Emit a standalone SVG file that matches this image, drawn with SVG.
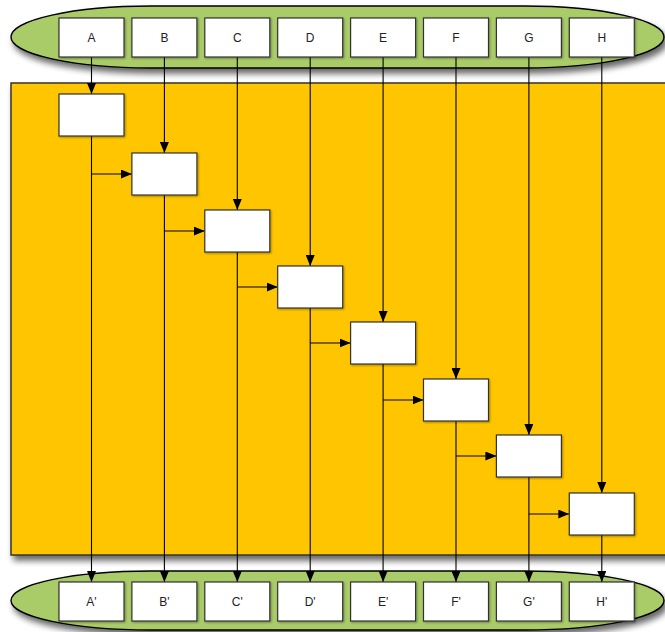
<svg xmlns="http://www.w3.org/2000/svg" width="665" height="632" viewBox="0 0 665 632">
<defs>
<filter id="sh" x="-10%" y="-30%" width="130%" height="180%">
<feGaussianBlur in="SourceAlpha" stdDeviation="3"/>
<feOffset dx="3" dy="5" result="b"/>
<feComponentTransfer><feFuncA type="linear" slope="0.6"/></feComponentTransfer>
<feMerge><feMergeNode/><feMergeNode in="SourceGraphic"/></feMerge>
</filter>
<filter id="bsh" x="-10%" y="-10%" width="130%" height="130%">
<feGaussianBlur in="SourceAlpha" stdDeviation="1"/>
<feOffset dx="1" dy="1"/>
<feComponentTransfer><feFuncA type="linear" slope="0.35"/></feComponentTransfer>
<feMerge><feMergeNode/><feMergeNode in="SourceGraphic"/></feMerge>
</filter>
<marker id="arr" viewBox="0 0 11 9" refX="11" refY="4.5" markerWidth="11" markerHeight="9" markerUnits="userSpaceOnUse" orient="auto">
<path d="M0,0 L11,4.5 L0,9 Z" fill="#000"/>
</marker>
<style>
.pill{fill:#A9CB67;stroke:#000;stroke-width:1.4}
.panel{fill:#FFC600;stroke:#333;stroke-width:1.5}
.box{fill:#fff;stroke:#333;stroke-width:1.2}
.lbl{font-family:"Liberation Sans",Arial,sans-serif;font-size:12px;fill:#222;text-anchor:middle}
.c{fill:none;stroke:#000;stroke-width:1.1;marker-end:url(#arr)}
</style>
</defs>

<g id="panel"><rect class="panel" x="11" y="83" width="680" height="472" filter="url(#sh)"/></g>

<g id="top-band">
<rect class="pill" x="11" y="6" width="653" height="62" rx="140" ry="31" filter="url(#sh)"/>
</g>
<g id="bottom-band">
<rect class="pill" x="11" y="571" width="653" height="59" rx="140" ry="29.5" filter="url(#sh)"/>
</g>

<g id="connectors">
<path class="c" d="M91.5,57 V94"/>
<path class="c" d="M164.4,57 V153"/>
<path class="c" d="M237.3,57 V210"/>
<path class="c" d="M310.2,57 V266"/>
<path class="c" d="M383.1,57 V322"/>
<path class="c" d="M456,57 V379"/>
<path class="c" d="M528.9,57 V435"/>
<path class="c" d="M601.8,57 V493"/>
<path class="c" d="M91.5,136 V582"/>
<path class="c" d="M164.4,195 V582"/>
<path class="c" d="M237.3,252 V582"/>
<path class="c" d="M310.2,308 V582"/>
<path class="c" d="M383.1,364 V582"/>
<path class="c" d="M456,421 V582"/>
<path class="c" d="M528.9,477 V582"/>
<path class="c" d="M601.8,535 V582"/>
<path class="c" d="M91.5,174 H131.9"/>
<path class="c" d="M164.4,231 H204.8"/>
<path class="c" d="M237.3,287 H277.7"/>
<path class="c" d="M310.2,343 H350.6"/>
<path class="c" d="M383.1,400 H423.5"/>
<path class="c" d="M456,456 H496.4"/>
<path class="c" d="M528.9,514 H569.3"/>
</g>

<g id="inputs">
<g id="in-A"><rect class="box" x="59" y="18" width="65" height="39" filter="url(#bsh)"/><text class="lbl" x="91.5" y="42">A</text></g>
<g id="in-B"><rect class="box" x="131.9" y="18" width="65" height="39" filter="url(#bsh)"/><text class="lbl" x="164.4" y="42">B</text></g>
<g id="in-C"><rect class="box" x="204.8" y="18" width="65" height="39" filter="url(#bsh)"/><text class="lbl" x="237.3" y="42">C</text></g>
<g id="in-D"><rect class="box" x="277.7" y="18" width="65" height="39" filter="url(#bsh)"/><text class="lbl" x="310.2" y="42">D</text></g>
<g id="in-E"><rect class="box" x="350.6" y="18" width="65" height="39" filter="url(#bsh)"/><text class="lbl" x="383.1" y="42">E</text></g>
<g id="in-F"><rect class="box" x="423.5" y="18" width="65" height="39" filter="url(#bsh)"/><text class="lbl" x="456" y="42">F</text></g>
<g id="in-G"><rect class="box" x="496.4" y="18" width="65" height="39" filter="url(#bsh)"/><text class="lbl" x="528.9" y="42">G</text></g>
<g id="in-H"><rect class="box" x="569.3" y="18" width="65" height="39" filter="url(#bsh)"/><text class="lbl" x="601.8" y="42">H</text></g>
</g>

<g id="process">
<g id="p-A"><rect class="box" x="59" y="94" width="65" height="42" filter="url(#bsh)"/></g>
<g id="p-B"><rect class="box" x="131.9" y="153" width="65" height="42" filter="url(#bsh)"/></g>
<g id="p-C"><rect class="box" x="204.8" y="210" width="65" height="42" filter="url(#bsh)"/></g>
<g id="p-D"><rect class="box" x="277.7" y="266" width="65" height="42" filter="url(#bsh)"/></g>
<g id="p-E"><rect class="box" x="350.6" y="322" width="65" height="42" filter="url(#bsh)"/></g>
<g id="p-F"><rect class="box" x="423.5" y="379" width="65" height="42" filter="url(#bsh)"/></g>
<g id="p-G"><rect class="box" x="496.4" y="435" width="65" height="42" filter="url(#bsh)"/></g>
<g id="p-H"><rect class="box" x="569.3" y="493" width="65" height="42" filter="url(#bsh)"/></g>
</g>

<g id="outputs">
<g id="out-A"><rect class="box" x="59" y="582" width="65" height="39" filter="url(#bsh)"/><text class="lbl" x="91.5" y="606">A'</text></g>
<g id="out-B"><rect class="box" x="131.9" y="582" width="65" height="39" filter="url(#bsh)"/><text class="lbl" x="164.4" y="606">B'</text></g>
<g id="out-C"><rect class="box" x="204.8" y="582" width="65" height="39" filter="url(#bsh)"/><text class="lbl" x="237.3" y="606">C'</text></g>
<g id="out-D"><rect class="box" x="277.7" y="582" width="65" height="39" filter="url(#bsh)"/><text class="lbl" x="310.2" y="606">D'</text></g>
<g id="out-E"><rect class="box" x="350.6" y="582" width="65" height="39" filter="url(#bsh)"/><text class="lbl" x="383.1" y="606">E'</text></g>
<g id="out-F"><rect class="box" x="423.5" y="582" width="65" height="39" filter="url(#bsh)"/><text class="lbl" x="456" y="606">F'</text></g>
<g id="out-G"><rect class="box" x="496.4" y="582" width="65" height="39" filter="url(#bsh)"/><text class="lbl" x="528.9" y="606">G'</text></g>
<g id="out-H"><rect class="box" x="569.3" y="582" width="65" height="39" filter="url(#bsh)"/><text class="lbl" x="601.8" y="606">H'</text></g>
</g>
</svg>
